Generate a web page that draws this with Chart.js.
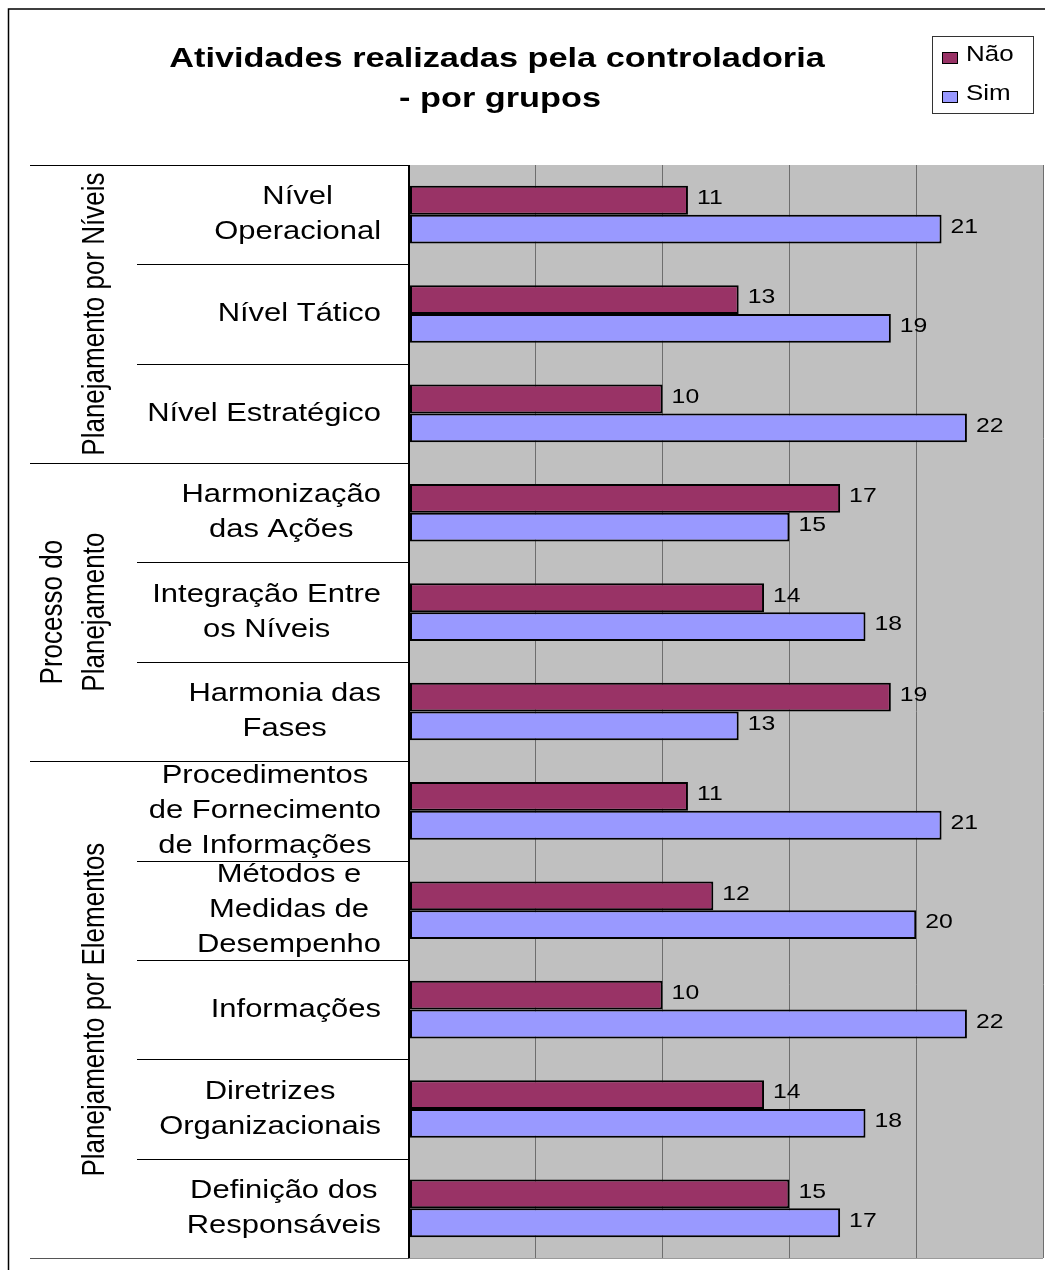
<!DOCTYPE html>
<html>
<head>
<meta charset="utf-8">
<script src="https://cdn.jsdelivr.net/npm/chart.js@4.4.1/dist/chart.umd.min.js"></script>
<style>
  html, body { margin: 0; padding: 0; background: #fff; }
  #wrap { width: 1045px; height: 1270px; position: relative; }
</style>
</head>
<body>
<div id="wrap"><canvas id="chart" width="1045" height="1270"></canvas></div>
<script>
// Category labels, one array of lines per bar pair
const categories = [
    ['Nível', 'Operacional'],
    ['Nível Tático'],
    ['Nível Estratégico'],
    ['Harmonização', 'das Ações'],
    ['Integração Entre', 'os Níveis'],
    ['Harmonia das', 'Fases'],
    ['Procedimentos', 'de Fornecimento', 'de Informações'],
    ['Métodos e', 'Medidas de', 'Desempenho'],
    ['Informações'],
    ['Diretrizes', 'Organizacionais'],
    ['Definição dos', 'Responsáveis']
];
const naoValues = [11, 13, 10, 17, 14, 19, 11, 12, 10, 14, 15];
const simValues = [21, 19, 22, 15, 18, 13, 21, 20, 22, 18, 17];

// Groups of categories (rotated labels on the far left)
const groupLabels = [
    ['Planejamento por Níveis'],
    ['Processo do', 'Planejamento'],
    ['Planejamento por Elementos']
];
const groupSizes = [3, 3, 5];

const titleLines = ['Atividades realizadas pela controladoria', '- por grupos'];
const xTicks = { min: 0, max: 25, step: 5 };

const FONT = "'Liberation Sans', Arial, sans-serif";
const NAO_COLOR = '#993366';
const SIM_COLOR = '#9999FF';

// text drawn a little wider than the font's natural width
function wideText(ctx, text, x, y, sx) {
    ctx.save();
    ctx.translate(x, y);
    ctx.scale(sx, 1);
    ctx.fillText(text, 0, 0);
    ctx.restore();
}

const sidePlugin = {
    id: 'sidePlugin',
    beforeDraw(chart) {
        const { ctx, chartArea: a } = chart;
        ctx.save();
        ctx.fillStyle = '#C0C0C0';
        ctx.fillRect(a.left, a.top, a.right - a.left, a.bottom - a.top);
        ctx.restore();
    },
    afterDatasetsDraw(chart) {
        const { ctx } = chart;
        ctx.save();
        ctx.font = '21px ' + FONT;
        ctx.fillStyle = '#000';
        ctx.textBaseline = 'middle';
        ctx.textAlign = 'left';
        chart.data.datasets.forEach((ds, di) => {
            const meta = chart.getDatasetMeta(di);
            meta.data.forEach((bar, i) => {
                wideText(ctx, String(ds.data[i]), bar.x + 9, bar.y - 2, 1.18);
            });
        });
        ctx.restore();
    },
    afterDraw(chart) {
        const { ctx, chartArea: a, scales } = chart;
        const y = scales.y;
        const step = (a.bottom - a.top) / categories.length;
        ctx.save();

        // outer frame (left and top edges)
        ctx.strokeStyle = '#000';
        ctx.lineWidth = 1.5;
        ctx.beginPath();
        ctx.moveTo(8.5, 1270);
        ctx.lineTo(8.5, 9);
        ctx.lineTo(1045, 9);
        ctx.stroke();

        // plot bottom edge
        ctx.lineWidth = 1;
        ctx.strokeStyle = '#9a9a9a';
        ctx.beginPath();
        ctx.moveTo(a.left, a.bottom + 0.5);
        ctx.lineTo(a.right, a.bottom + 0.5);
        ctx.stroke();

        // category labels
        ctx.fillStyle = '#000';
        ctx.font = '26px ' + FONT;
        ctx.textBaseline = 'middle';
        ctx.textAlign = 'center';
        const sx = 1.19;
        const lineH = 35;
        categories.forEach((lines, i) => {
            const cy = y.getPixelForValue(i);
            const w = Math.max(...lines.map(l => ctx.measureText(l).width)) * sx;
            const cx = 381 - w / 2;
            lines.forEach((l, k) => {
                wideText(ctx, l, cx, cy + (k - (lines.length - 1) / 2) * lineH, sx);
            });
        });

        // separators between categories and groups
        ctx.lineWidth = 1;
        const groupEdges = new Set([0]);
        let acc = 0;
        groupSizes.forEach(n => { acc += n; groupEdges.add(acc); });
        for (let i = 0; i <= categories.length; i++) {
            const yy = Math.round(a.top + i * step) + 0.5;
            ctx.strokeStyle = i === categories.length ? '#555' : '#000';
            ctx.beginPath();
            ctx.moveTo(groupEdges.has(i) ? 30 : 137, yy);
            ctx.lineTo(a.left, yy);
            ctx.stroke();
        }

        // rotated group labels
        ctx.font = '26px ' + FONT;
        ctx.textBaseline = 'alphabetic';
        let start = 0;
        groupLabels.forEach((lines, g) => {
            const top = a.top + start * step;
            const bottom = a.top + (start + groupSizes[g]) * step;
            const cy = (top + bottom) / 2;
            lines.forEach((l, k) => {
                const bx = lines.length > 1 ? 62 + k * 42 : 104;
                ctx.save();
                ctx.translate(bx, cy);
                ctx.rotate(-Math.PI / 2);
                ctx.scale(1, 1.2);
                ctx.fillText(l, 0, 0);
                ctx.restore();
            });
            start += groupSizes[g];
        });

        // title
        ctx.textBaseline = 'middle';
        ctx.font = 'bold 27px ' + FONT;
        wideText(ctx, titleLines[0], 497, 60, 1.27);
        wideText(ctx, titleLines[1], 500, 100, 1.27);

        // legend
        ctx.strokeStyle = '#333';
        ctx.lineWidth = 1;
        ctx.strokeRect(932.5, 36.5, 101, 77);
        ctx.font = '22px ' + FONT;
        ctx.textAlign = 'left';
        [['Não', NAO_COLOR, 57], ['Sim', SIM_COLOR, 96]].forEach(([txt, col, ly]) => {
            ctx.fillStyle = col;
            ctx.fillRect(942, ly - 5, 16, 12);
            ctx.strokeStyle = '#000';
            ctx.strokeRect(942.5, ly - 4.5, 15, 11);
            ctx.fillStyle = '#000';
            wideText(ctx, txt, 966, ly - 2, 1.18);
        });

        ctx.restore();
    }
};

new Chart(document.getElementById('chart'), {
    type: 'bar',
    data: {
        labels: categories.map(l => l.join(' ')),
        datasets: [
            {
                label: 'Não',
                data: naoValues,
                backgroundColor: NAO_COLOR,
                borderColor: '#000',
                borderWidth: 2,
                borderSkipped: false
            },
            {
                label: 'Sim',
                data: simValues,
                backgroundColor: SIM_COLOR,
                borderColor: '#000',
                borderWidth: 2,
                borderSkipped: false
            }
        ]
    },
    options: {
        indexAxis: 'y',
        responsive: false,
        animation: false,
        categoryPercentage: 0.58,
        barPercentage: 1,
        layout: { padding: { left: 409, right: 2, top: 165, bottom: 12 } },
        plugins: {
            legend: { display: false },
            title: { display: false },
            tooltip: { enabled: false }
        },
        scales: {
            x: {
                min: xTicks.min,
                max: xTicks.max,
                ticks: { stepSize: xTicks.step, display: false },
                border: { display: false },
                grid: {
                    drawTicks: false,
                    color: c => c.tick.value === 0 ? '#000' : '#6e6e6e',
                    lineWidth: c => c.tick.value === 0 ? 2 : 1
                }
            },
            y: { display: false }
        }
    },
    plugins: [sidePlugin]
});
</script>
</body>
</html>
